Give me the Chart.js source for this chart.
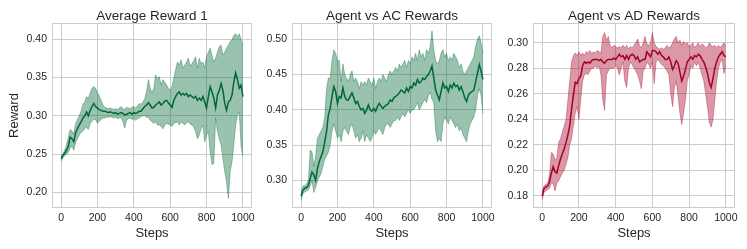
<!DOCTYPE html>
<html lang="en">
<head>
  <meta charset="UTF-8">
  <title>Reward curves</title>
  <script src="https://cdn.jsdelivr.net/npm/chart.js"></script>
  <style>
    body {
      margin: 0;
      padding: 0;
      background: white;
      width: 747px;
      height: 249px;
      overflow: hidden;
      position: relative;
    }

    .panel {
      position: absolute;
      top: 0;
      height: 249px;
    }
  </style>
</head>
<body>
  <div class="panel" style="left:0;width:260px"><canvas id="c1" width="260" height="249"></canvas></div>
  <div class="panel" style="left:260px;width:240px"><canvas id="c2" width="240" height="249"></canvas></div>
  <div class="panel" style="left:500px;width:247px"><canvas id="c3" width="247" height="249"></canvas></div>

  <script>
    // steps 0..1000, one reading every 10 steps
    const steps = Array.from({ length: 101 }, (_, i) => i * 10);
    const xTicks = [0, 200, 400, 600, 800, 1000];

    // Average Reward 1
    const mean1 = [0.244,0.248,0.251,0.255,0.260,0.272,0.270,0.266,0.278,0.283,
      0.288,0.292,0.297,0.300,0.305,0.300,0.307,0.312,0.316,0.312,
      0.310,0.308,0.307,0.306,0.306,0.305,0.304,0.305,0.304,0.303,
      0.304,0.302,0.303,0.304,0.303,0.301,0.302,0.303,0.304,0.302,
      0.304,0.303,0.304,0.306,0.306,0.309,0.312,0.314,0.317,0.314,
      0.310,0.311,0.314,0.316,0.318,0.314,0.316,0.319,0.320,0.317,
      0.314,0.311,0.320,0.325,0.329,0.331,0.327,0.329,0.327,0.329,
      0.325,0.327,0.325,0.323,0.325,0.320,0.323,0.320,0.325,0.318,
      0.310,0.325,0.338,0.331,0.323,0.310,0.327,0.333,0.342,0.333,
      0.316,0.307,0.318,0.320,0.327,0.344,0.356,0.347,0.336,0.340,
      0.325];
    const high1 = [0.247,0.251,0.255,0.262,0.272,0.282,0.280,0.276,0.290,0.295,
      0.300,0.306,0.315,0.318,0.325,0.322,0.330,0.336,0.338,0.336,
      0.330,0.326,0.320,0.314,0.311,0.310,0.309,0.310,0.309,0.308,
      0.309,0.308,0.310,0.312,0.309,0.308,0.311,0.310,0.309,0.311,
      0.312,0.310,0.313,0.316,0.315,0.318,0.322,0.332,0.347,0.336,
      0.330,0.336,0.353,0.348,0.351,0.340,0.347,0.344,0.340,0.336,
      0.333,0.338,0.349,0.360,0.370,0.366,0.373,0.362,0.366,0.370,
      0.375,0.365,0.368,0.372,0.377,0.362,0.375,0.368,0.370,0.362,
      0.377,0.383,0.388,0.379,0.370,0.375,0.383,0.390,0.392,0.379,
      0.383,0.388,0.392,0.397,0.399,0.405,0.407,0.403,0.407,0.399,
      0.392];
    const low1 = [0.241,0.245,0.248,0.250,0.252,0.258,0.260,0.255,0.265,0.270,
      0.275,0.278,0.280,0.283,0.285,0.282,0.290,0.293,0.295,0.295,
      0.290,0.293,0.295,0.297,0.297,0.298,0.298,0.299,0.298,0.297,
      0.298,0.296,0.297,0.298,0.292,0.284,0.294,0.296,0.297,0.295,
      0.296,0.294,0.296,0.297,0.299,0.300,0.300,0.298,0.298,0.294,
      0.292,0.290,0.292,0.288,0.288,0.286,0.283,0.288,0.290,0.289,
      0.288,0.286,0.290,0.291,0.292,0.288,0.292,0.290,0.288,0.291,
      0.292,0.289,0.288,0.285,0.279,0.270,0.275,0.283,0.288,0.266,
      0.275,0.279,0.253,0.236,0.238,0.297,0.279,0.270,0.262,0.244,
      0.227,0.214,0.192,0.227,0.240,0.262,0.288,0.301,0.305,0.260,
      0.247];
    const yTicks1 = [0.20, 0.25, 0.30, 0.35, 0.40];

    // Agent vs AC Rewards
    const mean2 = [0.278,0.286,0.289,0.290,0.293,0.303,0.312,0.308,0.300,0.317,
      0.327,0.334,0.341,0.355,0.369,0.393,0.402,0.419,0.433,0.426,
      0.409,0.419,0.417,0.431,0.419,0.414,0.414,0.419,0.424,0.417,
      0.409,0.412,0.405,0.400,0.402,0.395,0.400,0.407,0.400,0.398,
      0.402,0.398,0.405,0.409,0.405,0.402,0.405,0.407,0.409,0.414,
      0.412,0.417,0.419,0.421,0.424,0.428,0.426,0.424,0.431,0.426,
      0.433,0.431,0.438,0.435,0.443,0.438,0.440,0.445,0.443,0.447,
      0.450,0.455,0.462,0.445,0.428,0.421,0.414,0.426,0.438,0.431,
      0.433,0.426,0.435,0.431,0.438,0.433,0.435,0.428,0.433,0.426,
      0.417,0.412,0.421,0.424,0.426,0.428,0.440,0.452,0.464,0.455,
      0.443];
    const high2 = [0.282,0.292,0.293,0.295,0.300,0.343,0.340,0.320,0.335,0.360,
      0.365,0.370,0.375,0.390,0.430,0.445,0.445,0.470,0.485,0.480,
      0.470,0.470,0.440,0.465,0.450,0.445,0.440,0.450,0.455,0.440,
      0.445,0.440,0.430,0.440,0.435,0.440,0.435,0.445,0.440,0.435,
      0.445,0.430,0.440,0.445,0.440,0.450,0.445,0.440,0.450,0.455,
      0.450,0.455,0.460,0.455,0.465,0.460,0.465,0.470,0.460,0.470,
      0.465,0.475,0.470,0.480,0.470,0.485,0.475,0.480,0.470,0.485,
      0.480,0.490,0.512,0.485,0.470,0.465,0.470,0.480,0.485,0.475,
      0.480,0.470,0.475,0.470,0.480,0.475,0.470,0.460,0.465,0.455,
      0.450,0.455,0.460,0.465,0.470,0.475,0.490,0.500,0.505,0.495,
      0.480];
    const low2 = [0.272,0.281,0.284,0.285,0.287,0.292,0.300,0.283,0.290,0.300,
      0.305,0.310,0.320,0.330,0.335,0.340,0.350,0.370,0.380,0.370,
      0.360,0.365,0.355,0.370,0.375,0.370,0.365,0.375,0.380,0.370,
      0.360,0.365,0.355,0.360,0.370,0.355,0.365,0.360,0.355,0.360,
      0.370,0.365,0.370,0.375,0.370,0.365,0.375,0.380,0.380,0.375,
      0.380,0.385,0.385,0.390,0.385,0.390,0.395,0.390,0.395,0.400,
      0.395,0.400,0.400,0.405,0.410,0.400,0.405,0.410,0.415,0.410,
      0.420,0.425,0.415,0.410,0.370,0.355,0.360,0.355,0.380,0.390,
      0.385,0.380,0.390,0.385,0.380,0.375,0.380,0.370,0.375,0.365,
      0.360,0.355,0.370,0.380,0.385,0.390,0.400,0.420,0.430,0.420,
      0.395];
    const yTicks2 = [0.30, 0.35, 0.40, 0.45, 0.50];

    // Agent vs AD Rewards
    const mean3 = [0.180,0.186,0.187,0.188,0.191,0.198,0.203,0.199,0.198,0.204,
      0.209,0.213,0.217,0.222,0.228,0.235,0.248,0.259,0.269,0.268,
      0.272,0.274,0.282,0.285,0.284,0.285,0.284,0.286,0.287,0.287,
      0.287,0.286,0.287,0.285,0.284,0.286,0.287,0.287,0.287,0.288,
      0.287,0.289,0.291,0.289,0.290,0.287,0.290,0.287,0.290,0.291,
      0.290,0.287,0.289,0.285,0.286,0.287,0.287,0.293,0.291,0.289,
      0.294,0.294,0.293,0.291,0.293,0.290,0.289,0.287,0.287,0.289,
      0.285,0.279,0.282,0.286,0.284,0.277,0.270,0.274,0.279,0.285,
      0.287,0.289,0.287,0.290,0.289,0.291,0.290,0.287,0.285,0.281,
      0.276,0.269,0.265,0.272,0.280,0.285,0.289,0.291,0.293,0.290,
      0.289];
    const high3 = [0.183,0.188,0.189,0.190,0.197,0.214,0.213,0.208,0.210,0.222,
      0.225,0.230,0.235,0.240,0.255,0.270,0.285,0.290,0.292,0.290,
      0.293,0.290,0.292,0.290,0.293,0.292,0.294,0.291,0.293,0.292,
      0.294,0.293,0.292,0.305,0.308,0.302,0.305,0.298,0.296,0.298,
      0.297,0.296,0.297,0.296,0.298,0.296,0.298,0.295,0.297,0.296,
      0.298,0.300,0.303,0.298,0.296,0.300,0.305,0.299,0.298,0.300,
      0.308,0.300,0.297,0.296,0.295,0.296,0.295,0.296,0.298,0.296,
      0.297,0.300,0.303,0.305,0.300,0.302,0.298,0.301,0.299,0.300,
      0.297,0.298,0.300,0.296,0.298,0.300,0.297,0.299,0.298,0.296,
      0.297,0.300,0.298,0.297,0.298,0.296,0.298,0.296,0.298,0.300,
      0.297];
    const low3 = [0.177,0.183,0.184,0.185,0.186,0.190,0.190,0.184,0.190,0.192,
      0.195,0.198,0.200,0.205,0.210,0.220,0.225,0.235,0.245,0.250,
      0.240,0.255,0.270,0.275,0.276,0.275,0.278,0.280,0.280,0.282,
      0.280,0.282,0.275,0.255,0.247,0.275,0.278,0.280,0.280,0.280,
      0.282,0.280,0.275,0.280,0.285,0.270,0.265,0.280,0.285,0.283,
      0.280,0.278,0.275,0.270,0.264,0.278,0.280,0.285,0.283,0.280,
      0.285,0.268,0.285,0.287,0.285,0.283,0.282,0.280,0.278,0.275,
      0.260,0.250,0.265,0.270,0.258,0.245,0.236,0.245,0.255,0.270,
      0.275,0.282,0.280,0.285,0.282,0.285,0.280,0.275,0.270,0.260,
      0.250,0.238,0.234,0.240,0.255,0.270,0.280,0.285,0.287,0.276,
      0.282];
    const yTicks3 = [0.18, 0.20, 0.22, 0.24, 0.26, 0.28, 0.30];

    const FONT = "'Liberation Sans', Arial, sans-serif";
    const TEXT = '#262626';
    const GRID = '#cccccc';

    // border round the plot area + centred title, like the seaborn whitegrid look
    const frame = {
      id: 'frame',
      afterDraw(chart, args, opts) {
        const { ctx, chartArea: a } = chart;
        ctx.save();
        ctx.strokeStyle = GRID;
        ctx.lineWidth = 1;
        ctx.strokeRect(a.left + 0.5, a.top + 0.5, a.right - a.left - 1, a.bottom - a.top - 1);
        ctx.fillStyle = TEXT;
        ctx.font = '13.5px ' + FONT;
        ctx.textAlign = 'center';
        ctx.textBaseline = 'alphabetic';
        ctx.fillText(opts.text, (a.left + a.right) / 2, 19.5);
        ctx.restore();
      }
    };

    function pts(arr) {
      return steps.map((s, i) => ({ x: s, y: arr[i] }));
    }

    function makePanel(id, cfg) {
      return new Chart(document.getElementById(id), {
        type: 'line',
        data: {
          datasets: [
            { data: pts(cfg.mean), borderColor: cfg.line, borderWidth: 1.5, fill: false },
            { data: pts(cfg.high), borderColor: cfg.edge, borderWidth: 0.8, backgroundColor: cfg.fill, fill: '+1' },
            { data: pts(cfg.low), borderColor: cfg.edge, borderWidth: 0.8, fill: false }
          ]
        },
        options: {
          responsive: false,
          animation: false,
          events: [],
          layout: { padding: { top: 23, right: cfg.padRight, left: 0, bottom: 0 } },
          elements: { point: { radius: 0 }, line: { tension: 0 } },
          plugins: {
            legend: { display: false },
            tooltip: { enabled: false },
            frame: { text: cfg.title }
          },
          scales: {
            x: {
              type: 'linear',
              min: -50,
              max: 1050,
              afterBuildTicks: s => { s.ticks = xTicks.map(v => ({ value: v })); },
              afterFit: s => { s.height = 41; },
              ticks: { font: { family: FONT, size: 10.5 }, color: TEXT, padding: 4, maxRotation: 0, autoSkip: false, callback: v => String(v) },
              grid: { color: GRID, lineWidth: 1, drawTicks: false },
              border: { display: false },
              title: { display: true, text: 'Steps', font: { family: FONT, size: 13 }, color: TEXT, padding: { top: 0, bottom: 8 } }
            },
            y: {
              min: cfg.yMin,
              max: cfg.yMax,
              afterBuildTicks: s => { s.ticks = cfg.yTicks.map(v => ({ value: v })); },
              afterFit: s => { s.width = cfg.yWidth; },
              ticks: { font: { family: FONT, size: 10.5 }, color: TEXT, padding: 5, autoSkip: false, callback: v => v.toFixed(2) },
              grid: { color: GRID, lineWidth: 1, drawTicks: false },
              border: { display: false },
              title: { display: !!cfg.yTitle, text: cfg.yTitle || '', font: { family: FONT, size: 13 }, color: TEXT, padding: { top: 7, bottom: 0 } }
            }
          }
        },
        plugins: [frame]
      });
    }

    const GREEN = { line: '#006837', edge: 'rgba(0,104,55,0.45)', fill: 'rgba(0,104,55,0.4)' };
    const RED = { line: '#a50026', edge: 'rgba(165,0,38,0.45)', fill: 'rgba(165,0,38,0.4)' };

    makePanel('c1', Object.assign({
      title: 'Average Reward 1', yTitle: 'Reward', mean: mean1, high: high1, low: low1,
      yTicks: yTicks1, yMin: 0.1796, yMax: 0.421, yWidth: 52, padRight: 8
    }, GREEN));

    makePanel('c2', Object.assign({
      title: 'Agent vs AC Rewards', mean: mean2, high: high2, low: low2,
      yTicks: yTicks2, yMin: 0.261, yMax: 0.523, yWidth: 32, padRight: 8
    }, GREEN));

    makePanel('c3', Object.assign({
      title: 'Agent vs AD Rewards', mean: mean3, high: high3, low: low3,
      yTicks: yTicks3, yMin: 0.1706, yMax: 0.3155, yWidth: 33, padRight: 12
    }, RED));
  </script>
</body>
</html>
